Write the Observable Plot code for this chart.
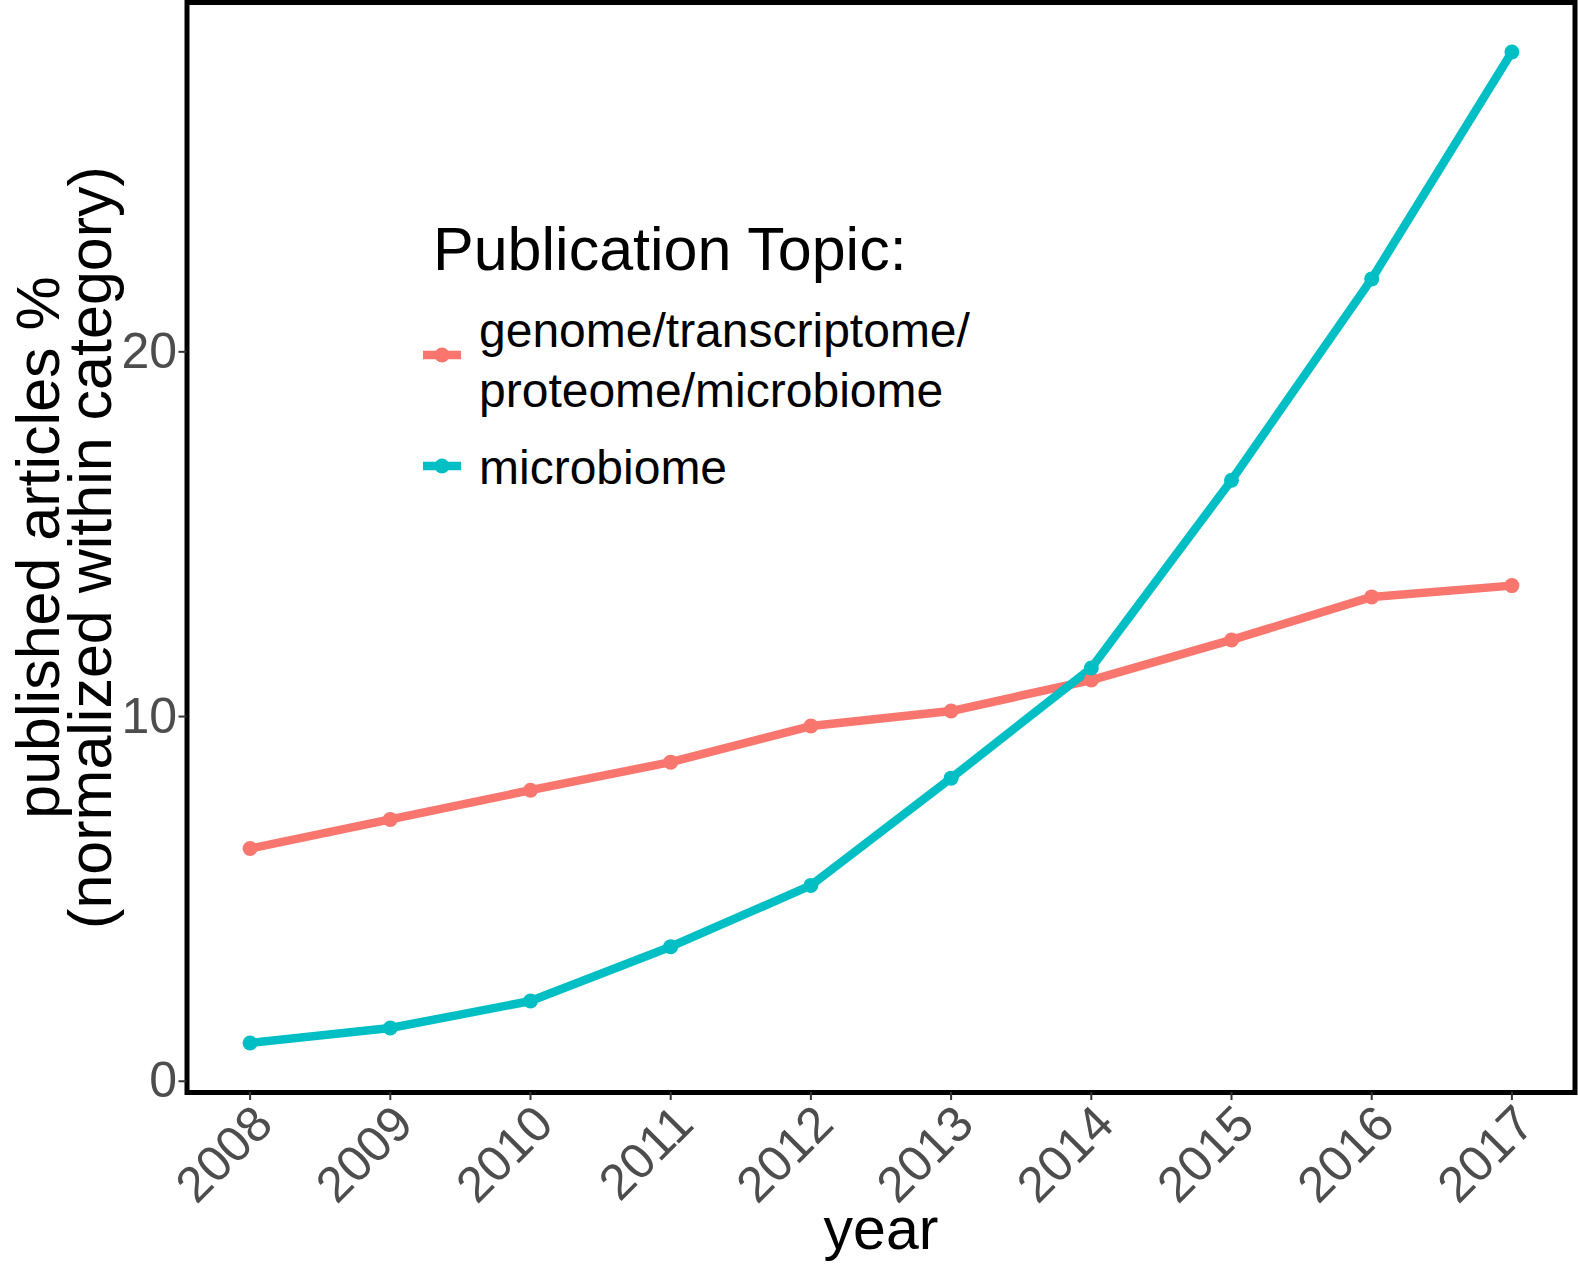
<!DOCTYPE html>
<html>
<head>
<meta charset="utf-8">
<script src="https://cdn.jsdelivr.net/npm/d3@7"></script>
<script src="https://cdn.jsdelivr.net/npm/@observablehq/plot@0.6"></script>
<style>
  body { margin: 0; background: #fff; }
  #chart { position: relative; width: 1578px; height: 1269px; }
  svg { font-family: "Liberation Sans", Arial, Helvetica, sans-serif; }
</style>
</head>
<body>
<div id="chart"></div>
<script>
// ---- data ----
const years = [2008, 2009, 2010, 2011, 2012, 2013, 2014, 2015, 2016, 2017];
const genomeValues = [6.38, 7.18, 7.98, 8.75, 9.74, 10.15, 11.0, 12.1, 13.28, 13.59];
const microbiomeValues = [1.05, 1.46, 2.2, 3.69, 5.37, 8.31, 11.33, 16.48, 22.0, 28.22];
const seriesNames = ["genome/transcriptome/proteome/microbiome", "microbiome"];
const seriesLegendLines = [["genome/transcriptome/", "proteome/microbiome"], ["microbiome"]];
const seriesColors = ["#F8766D", "#00BFC4"];
const yTicks = [0, 10, 20];
const xTitle = "year";
const yTitleLines = ["published articles %", "(normalized within category)"];
const legendTitle = "Publication Topic:";

// ---- table ----
const table = [
  ...years.map((yr, i) => ({year: yr, value: genomeValues[i], topic: seriesNames[0]})),
  ...years.map((yr, i) => ({year: yr, value: microbiomeValues[i], topic: seriesNames[1]}))
];

// ggplot-like 5% expansion
const xExt = d3.extent(years), xPad = (xExt[1] - xExt[0]) * 0.05;
const yExt = d3.extent(table, d => d.value), yPad = (yExt[1] - yExt[0]) * 0.05;

const font = '"Liberation Sans", Arial, Helvetica, sans-serif';

const chart = Plot.plot({
  width: 1578,
  height: 1269,
  marginLeft: 186.5,
  marginRight: 3.5,
  marginTop: 2,
  marginBottom: 177,
  style: {fontFamily: font, background: "#fff"},
  x: {domain: [xExt[0] - xPad, xExt[1] + xPad]},
  y: {domain: [yExt[0] - yPad, yExt[1] + yPad]},
  color: {domain: seriesNames, range: seriesColors},
  marks: [
    Plot.line(table, {x: "year", y: "value", z: "topic", stroke: "topic", strokeWidth: 8.5, strokeLinejoin: "round"}),
    Plot.dot(table, {x: "year", y: "value", fill: "topic", r: 7.5}),
    Plot.frame({stroke: "black", strokeWidth: 5}),
    Plot.axisY({ticks: yTicks, tickSize: 8, tickPadding: 2, fontSize: 50, label: null,
                stroke: "#333333", fill: "#4D4D4D", strokeWidth: 2}),
    Plot.axisX({ticks: years, tickSize: 8, tickFormat: () => "", label: null,
                stroke: "#333333", strokeWidth: 2}),
    Plot.text(years, {x: d => d, text: d => String(d), frameAnchor: "bottom", dy: 9,
                      rotate: -45, textAnchor: "end", lineAnchor: "top", fontSize: 50, fill: "#4D4D4D"}),
    Plot.text([xTitle], {text: d => d, frameAnchor: "bottom", dy: 156, lineAnchor: "bottom",
                         textAnchor: "middle", fontSize: 59, fill: "black"}),
    Plot.text([yTitleLines[0]], {text: d => d, frameAnchor: "left", dx: -128, rotate: -90,
                                 textAnchor: "middle", lineAnchor: "bottom", fontSize: 61, fill: "black"}),
    Plot.text([yTitleLines[1]], {text: d => d, frameAnchor: "left", dx: -76, rotate: -90,
                                 textAnchor: "middle", lineAnchor: "bottom", fontSize: 61, fill: "black"})
  ]
});

document.getElementById("chart").appendChild(chart);

// ---- legend (inside panel) ----
const svg = d3.select(chart);
const lg = svg.append("g").attr("font-family", font).attr("text-anchor", "start");
lg.append("text").attr("x", 433).attr("y", 270).attr("font-size", 61).attr("fill", "black").text(legendTitle);
const keyY = [355, 466];
const labelBaselines = [[347, 407], [484]];
seriesNames.forEach((name, i) => {
  lg.append("line").attr("x1", 423).attr("x2", 461).attr("y1", keyY[i]).attr("y2", keyY[i])
    .attr("stroke", seriesColors[i]).attr("stroke-width", 8.5);
  lg.append("circle").attr("cx", 442).attr("cy", keyY[i]).attr("r", 7.5).attr("fill", seriesColors[i]);
  seriesLegendLines[i].forEach((t, j) => {
    lg.append("text").attr("x", 479).attr("y", labelBaselines[i][j]).attr("font-size", 48)
      .attr("fill", "black").text(t);
  });
});
</script>
</body>
</html>
